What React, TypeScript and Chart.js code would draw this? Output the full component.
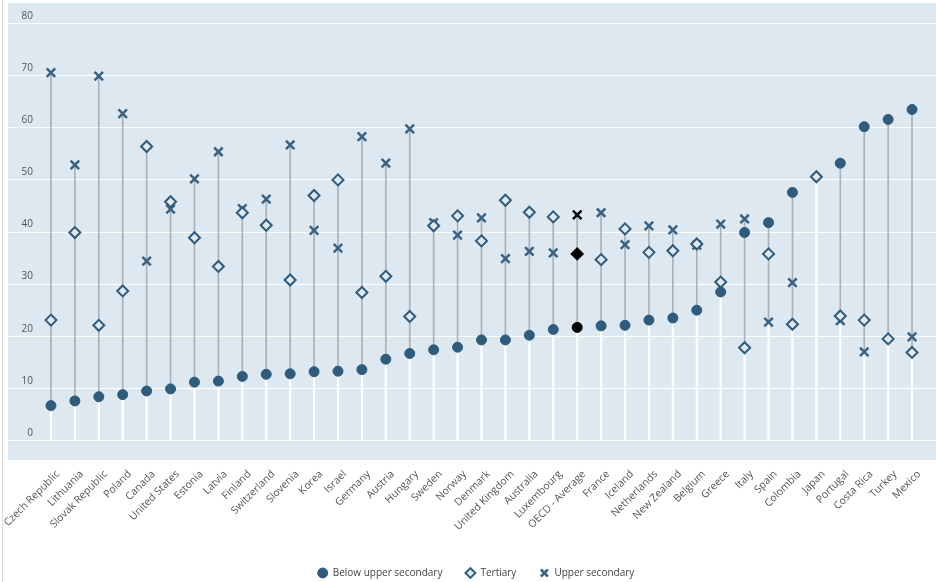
import React, { useEffect, useRef } from 'react';
import { Chart, registerables } from 'chart.js';

Chart.register(...registerables);

const categories = [
  'Czech Republic', 'Lithuania', 'Slovak Republic', 'Poland', 'Canada', 'United States', 'Estonia',
  'Latvia', 'Finland', 'Switzerland', 'Slovenia', 'Korea', 'Israel', 'Germany', 'Austria', 'Hungary',
  'Sweden', 'Norway', 'Denmark', 'United Kingdom', 'Australia', 'Luxembourg', 'OECD - Average',
  'France', 'Iceland', 'Netherlands', 'New Zealand', 'Belgium', 'Greece', 'Italy', 'Spain',
  'Colombia', 'Japan', 'Portugal', 'Costa Rica', 'Turkey', 'Mexico',
];

const belowUpperSecondary: (number | null)[] = [
  6.6, 7.5, 8.3, 8.7, 9.4, 9.8, 11.1, 11.3, 12.2, 12.6, 12.7, 13.1, 13.2, 13.5, 15.5, 16.6,
  17.3, 17.8, 19.2, 19.2, 20.1, 21.2, 21.6, 21.9, 22.0, 23.0, 23.4, 24.9, 28.4, 39.8, 41.7,
  47.5, null, 53.1, 60.1, 61.5, 63.4,
];

const tertiary: (number | null)[] = [
  23.0, 39.8, 22.0, 28.6, 56.3, 45.7, 38.8, 33.3, 43.6, 41.2, 30.7, 46.9, 49.9, 28.3, 31.4, 23.7,
  41.1, 43.0, 38.2, 46.0, 43.7, 42.8, 35.7, 34.6, 40.5, 36.0, 36.3, 37.6, 30.3, 17.7, 35.7,
  22.2, 50.5, 23.8, 23.0, 19.4, 16.8,
];

const upperSecondary: (number | null)[] = [
  70.5, 52.8, 69.8, 62.6, 34.3, 44.3, 50.1, 55.3, 44.4, 46.2, 56.6, 40.2, 36.8, 58.2, 53.1, 59.7,
  41.7, 39.3, 42.6, 34.8, 36.2, 35.9, 43.2, 43.6, 37.5, 41.1, 40.3, 37.4, 41.4, 42.4, 22.6,
  30.2, null, 22.9, 16.9, null, 19.8,
];

const yMin = 0;
const yMax = 80;
const yStep = 10;
const highlight = 'OECD - Average';

const BG = '#dde8f0';
const MARK = '#2f5b7c';
const CROSS = '#3a6283';
const STEM = '#a8b2bc';

export default function App() {
  const ref = useRef<HTMLCanvasElement>(null);

  useEffect(() => {
    if (!ref.current) return;
    Chart.defaults.font.family = "'Open Sans', sans-serif";
    Chart.defaults.font.size = 10;

    const vals = categories.map((_, i) =>
      [belowUpperSecondary[i], tertiary[i], upperSecondary[i]].filter((v) => v !== null) as number[]
    );
    const lows = vals.map((v) => Math.min(...v));
    const highs = vals.map((v) => Math.max(...v));
    const isHi = categories.map((c) => c === highlight);

    const bgPlugin = {
      id: 'bgPlugin',
      afterLayout(chart: any) {
        if (chart.legend) {
          chart.legend.left += 10;
          chart.legend.right += 10;
        }
      },
      beforeDraw(chart: any) {
        const { ctx, chartArea } = chart;
        const y = chart.scales.y;
        ctx.save();
        ctx.fillStyle = '#ffffff';
        ctx.fillRect(0, 0, chart.width, chart.height);
        ctx.strokeStyle = '#dcdcdc';
        ctx.lineWidth = 1;
        ctx.beginPath();
        ctx.moveTo(2.5, 0);
        ctx.lineTo(2.5, chart.height);
        ctx.stroke();
        ctx.fillStyle = BG;
        ctx.fillRect(8, chartArea.top - 20, chart.width - 8, chartArea.bottom + 20 - (chartArea.top - 20));
        ctx.strokeStyle = '#ffffff';
        ctx.lineWidth = 1.2;
        y.ticks.forEach((t: any) => {
          const py = Math.round(y.getPixelForValue(t.value)) + 0.5;
          ctx.beginPath();
          ctx.moveTo(8, py);
          ctx.lineTo(chart.width, py);
          ctx.stroke();
        });
        ctx.restore();
      },
    };

    const chart = new Chart(ref.current, {
      type: 'bar',
      data: {
        labels: categories,
        datasets: [
          {
            type: 'line',
            label: 'Below upper secondary',
            data: belowUpperSecondary,
            showLine: false,
            pointStyle: 'circle',
            pointRadius: 5,
            pointHoverRadius: 5,
            pointBorderWidth: 1,
            pointBackgroundColor: isHi.map((h) => (h ? '#000000' : MARK)),
            pointBorderColor: isHi.map((h) => (h ? '#000000' : MARK)),
            backgroundColor: MARK,
            borderColor: MARK,
            order: 1,
          } as any,
          {
            type: 'line',
            label: 'Tertiary',
            data: tertiary,
            showLine: false,
            pointStyle: 'rectRot',
            pointRadius: 5.5,
            pointHoverRadius: 5.5,
            pointBorderWidth: 2,
            pointBackgroundColor: isHi.map((h) => (h ? '#000000' : BG)),
            pointBorderColor: isHi.map((h) => (h ? '#000000' : MARK)),
            backgroundColor: '#ffffff',
            borderColor: MARK,
            order: 2,
          } as any,
          {
            type: 'line',
            label: 'Upper secondary',
            data: upperSecondary,
            showLine: false,
            pointStyle: 'crossRot',
            pointRadius: 6,
            pointHoverRadius: 6,
            pointBorderWidth: 2.5,
            pointBackgroundColor: isHi.map((h) => (h ? '#000000' : CROSS)),
            pointBorderColor: isHi.map((h) => (h ? '#000000' : CROSS)),
            backgroundColor: CROSS,
            borderColor: CROSS,
            order: 3,
          } as any,
          {
            type: 'bar',
            label: 'range',
            data: categories.map((_, i) => [lows[i], highs[i]]),
            backgroundColor: STEM,
            borderWidth: 0,
            barThickness: 1,
            grouped: false,
            order: 10,
          } as any,
          {
            type: 'bar',
            label: 'base',
            data: categories.map((_, i) => [yMin, lows[i]]),
            backgroundColor: '#ffffff',
            borderWidth: 0,
            barThickness: 1.5,
            grouped: false,
            order: 11,
          } as any,
        ],
      },
      options: {
        responsive: false,
        animation: false,
        events: [],
        layout: { padding: { left: 8, right: 12, top: 23, bottom: 0 } },
        scales: {
          x: {
            offset: true,
            grid: { display: false, drawTicks: false },
            border: { display: false },
            ticks: {
              autoSkip: false,
              minRotation: 45,
              maxRotation: 45,
              padding: 28,
              labelOffset: 7,
              color: '#555555',
              font: { size: 10.5 },
            },
            afterFit: (s: any) => {
              s.height = 105;
              s.paddingLeft = 0;
              s.paddingRight = 0;
            },
          },
          y: {
            min: yMin,
            max: yMax,
            grid: { display: false, drawTicks: false },
            border: { display: false },
            ticks: {
              stepSize: yStep,
              padding: 6,
              labelOffset: -7,
              color: '#555555',
              font: { size: 10 },
            },
            afterFit: (s: any) => {
              s.width = 31;
              s.paddingTop = 0;
              s.paddingBottom = 0;
            },
          },
        },
        plugins: {
          tooltip: { enabled: false },
          legend: {
            position: 'bottom',
            labels: {
              usePointStyle: true,
              boxWidth: 10,
              boxHeight: 7,
              padding: 23,
              color: '#444444',
              font: { size: 10 },
              filter: (item: any) => item.text !== 'range' && item.text !== 'base',
            },
          },
        },
      },
      plugins: [bgPlugin],
    } as any);

    return () => chart.destroy();
  }, []);

  return (
    <div style={{ position: 'absolute', left: 0, top: 0, width: 936, height: 582, overflow: 'hidden' }}>
      <canvas ref={ref} width={936} height={588} style={{ display: 'block' }} />
    </div>
  );
}
